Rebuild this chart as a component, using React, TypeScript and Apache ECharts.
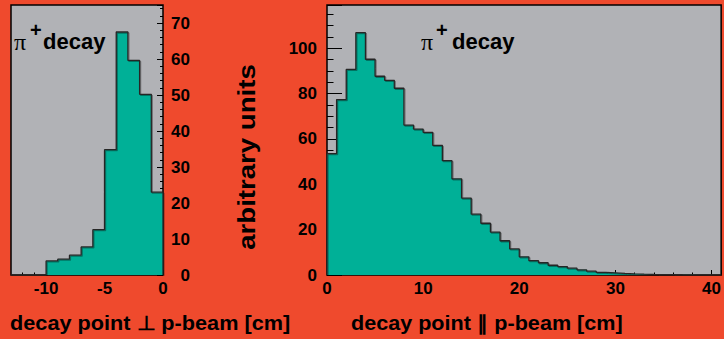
import React, { useEffect, useRef } from "react";
import * as echarts from "echarts";

// decay point perpendicular to p-beam [cm]: bin edges and contents
const perpBinEdges = [-13, -12, -11, -10, -9, -8, -7, -6, -5, -4, -3, -2, -1, 0];
const perpCounts = [0, 0, 0, 3.9, 4.4, 5.5, 7.8, 12.6, 34.8, 67.5, 59.6, 50.2, 23.0];

// decay point parallel to p-beam [cm]: bin edges and contents
const parBinEdges = [
  0, 1, 2, 3, 4, 5, 6, 7, 8, 9, 10, 11, 12, 13, 14, 15, 16, 17, 18, 19, 20,
  21, 22, 23, 24, 25, 26, 27, 28, 29, 30, 31, 32, 33, 34, 35, 36, 37, 38, 39, 40, 41,
];
const parCounts = [
  53.5, 77.3, 90.6, 106.8, 95.1, 87.6, 85.8, 82.3, 66.1, 64.3, 62.9, 57.1, 50.4,
  42.4, 33.9, 26.8, 22.8, 18.9, 15.1, 11.5, 8.0, 6.3, 5.4, 4.3, 3.7, 3.0, 2.3,
  1.7, 1.2, 0.95, 0.7, 0.5, 0.35, 0.25, 0.2, 0.15, 0.1, 0.08, 0.05, 0.03, 0.02,
];

// tick labels
const perpXLabels = [-10, -5, 0];
const perpXMinor = [-12, -11, -9, -8, -7, -6, -4, -3, -2, -1];
const perpYLabels = [0, 10, 20, 30, 40, 50, 60, 70];
const parXLabels = [0, 10, 20, 30, 40];
const parYLabels = [0, 20, 40, 60, 80, 100];

const BG = "#EF4A2D";
const PLOT_BG = "#B1B2B6";
const FILL = "#00B097";
const SANS = "'Liberation Sans', Arial, Helvetica, sans-serif";

function stepPoints(edges: number[], counts: number[]) {
  const pts: number[][] = [[edges[0], 0]];
  counts.forEach((c, i) => pts.push([edges[i], c]));
  pts.push([edges[edges.length - 1], counts[counts.length - 1]]);
  pts.push([edges[edges.length - 1], 0]);
  return pts;
}

const labelStyle = {
  fontFamily: SANS,
  fontWeight: "bold" as const,
  fontSize: 17,
  color: "#000",
};

export default function App() {
  const ref = useRef<HTMLDivElement>(null);

  useEffect(() => {
    document.body.style.margin = "0";
    const chart = echarts.init(ref.current!, null, { renderer: "svg" });
    const histSeries = (xi: number, yi: number, data: number[][]) => ({
      type: "line",
      xAxisIndex: xi,
      yAxisIndex: yi,
      step: "end",
      symbol: "none",
      data,
      lineStyle: {
        color: "#262626", width: 1.3,
        shadowColor: "rgba(0,0,0,0.35)", shadowBlur: 1, shadowOffsetX: 1, shadowOffsetY: 1,
      },
      areaStyle: { color: FILL, opacity: 1 },
      z: 2,
    });

    chart.setOption({
      animation: false,
      backgroundColor: BG,
      grid: [
        {
          left: 11, top: 5, width: 152, height: 270,
          show: true, backgroundColor: PLOT_BG, borderColor: "#000", borderWidth: 1.5,
        },
        {
          left: 327, top: 5, width: 395, height: 270,
          show: true, backgroundColor: PLOT_BG, borderColor: "#000", borderWidth: 1.5,
        },
      ],
      xAxis: [
        {
          gridIndex: 0, type: "value", min: -13, max: 0,
          axisLine: { show: false },
          splitLine: { show: false },
          axisTick: { inside: true, length: 5, customValues: perpXLabels, lineStyle: { color: "#000" } },
          axisLabel: { ...labelStyle, margin: 5, customValues: perpXLabels },
        },
        {
          gridIndex: 0, type: "value", min: -13, max: 0, position: "bottom",
          axisLine: { show: false },
          splitLine: { show: false },
          axisTick: { inside: true, length: 2.5, customValues: perpXMinor, lineStyle: { color: "#000" } },
          axisLabel: { show: false },
        },
        {
          gridIndex: 1, type: "value", min: 0, max: 41, interval: 10,
          axisLine: { show: false },
          splitLine: { show: false },
          axisTick: { inside: true, length: 5, lineStyle: { color: "#000" } },
          minorTick: { show: true, splitNumber: 5, length: 2.5, lineStyle: { color: "#000" } },
          minorSplitLine: { show: false },
          axisLabel: { ...labelStyle, margin: 5, customValues: parXLabels },
        },
      ],
      yAxis: [
        {
          gridIndex: 0, type: "value", position: "right", min: 0, max: 75, interval: 10,
          axisLine: { show: false },
          splitLine: { show: false },
          axisTick: { inside: true, length: 6, lineStyle: { color: "#000" } },
          minorTick: { show: true, splitNumber: 5, length: 3, lineStyle: { color: "#000" } },
          axisLabel: { ...labelStyle, margin: 27, align: "right", padding: [0, 0, 9, 0], customValues: perpYLabels },
        },
        {
          gridIndex: 1, type: "value", position: "left", min: 0, max: 119, interval: 20,
          axisLine: { show: false },
          splitLine: { show: false },
          axisTick: { inside: true, length: 15, lineStyle: { color: "#000" } },
          minorTick: { show: true, splitNumber: 4, length: 6.5, lineStyle: { color: "#000" } },
          axisLabel: { ...labelStyle, margin: 10, padding: [0, 0, 8, 0], customValues: parYLabels },
        },
      ],
      series: [
        histSeries(0, 0, stepPoints(perpBinEdges, perpCounts)),
        histSeries(2, 1, stepPoints(parBinEdges, parCounts)),
      ],
      graphic: [
        // left panel label
        { type: "text", left: 14, top: 30, z: 10, style: { text: "π", font: "24px 'Liberation Serif', serif", fill: "#000" } },
        { type: "text", left: 30, top: 20, z: 10, style: { text: "+", font: "bold 20px " + SANS, fill: "#000" } },
        { type: "text", left: 43, top: 30, z: 10, style: { text: "decay", font: "bold 22px " + SANS, fill: "#000" } },
        // right panel label
        { type: "text", left: 421, top: 30, z: 10, style: { text: "π", font: "24px 'Liberation Serif', serif", fill: "#000" } },
        { type: "text", left: 436, top: 20, z: 10, style: { text: "+", font: "bold 20px " + SANS, fill: "#000" } },
        { type: "text", left: 452, top: 30, z: 10, style: { text: "decay", font: "bold 22px " + SANS, fill: "#000" } },
        // y title
        {
          type: "text", x: 247, y: 157, rotation: Math.PI / 2, scaleX: 1.15, z: 10,
          style: { text: "arbitrary units", font: "bold 24px " + SANS, fill: "#000", align: "center", verticalAlign: "middle" },
        },
        // x titles
        {
          type: "text", x: 10, y: 323, scaleX: 1.085, z: 10,
          style: { text: "decay point ⊥ p-beam [cm]", font: "bold 20px " + SANS, fill: "#000", align: "left", verticalAlign: "middle" },
        },
        {
          type: "text", x: 351, y: 323, scaleX: 1.08, z: 10,
          style: { text: "decay point ∥ p-beam [cm]", font: "bold 20px " + SANS, fill: "#000", align: "left", verticalAlign: "middle" },
        },
      ],
    });
    return () => chart.dispose();
  }, []);

  return (
    <div
      ref={ref}
      style={{ position: "absolute", left: 0, top: 0, width: 724, height: 339, background: BG }}
    />
  );
}
